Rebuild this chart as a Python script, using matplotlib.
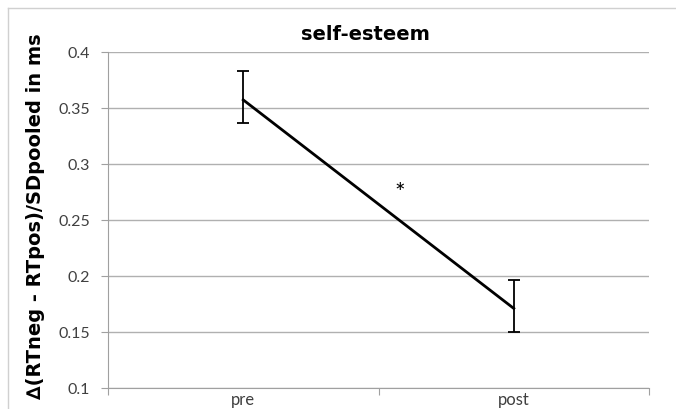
import matplotlib
matplotlib.use("Agg")
import matplotlib.pyplot as plt
from matplotlib.lines import Line2D

categories = ["pre", "post"]
values = [0.357, 0.171]
err_upper = [0.0255, 0.0250]
err_lower = [0.0207, 0.0210]
yticks = [0.1, 0.15, 0.2, 0.25, 0.3, 0.35, 0.4]
ytick_labels = ["0.1", "0.15", "0.2", "0.25", "0.3", "0.35", "0.4"]

plt.rcParams['font.family'] = ['Lato', 'DejaVu Sans']

W, H = 676, 410
fig = plt.figure(figsize=(W/100, H/100), dpi=100)
# outer frame (left and top edges visible)
fig.lines.append(Line2D([8/W, 8/W], [0, 1-9/H], transform=fig.transFigure,
                        color='#d0d0d0', linewidth=1))
fig.lines.append(Line2D([8/W, 1], [1-9/H, 1-9/H], transform=fig.transFigure,
                        color='#d0d0d0', linewidth=1))

ax = fig.add_axes([108/W, 1-389/H, (649-108)/W, (389-52.7)/H])

x = [0.5, 1.5]
ax.errorbar(x, values, yerr=[err_lower, err_upper], color='black', linewidth=2,
            elinewidth=1.3, capsize=4, capthick=1.3)
ax.set_xlim(0, 2)
ax.set_ylim(0.1, 0.4)
ax.set_yticks(yticks)
ax.set_yticklabels(ytick_labels, fontsize=11.5, color='#404040')
ax.yaxis.grid(True, color='#b0b0b0', linewidth=1)
ax.set_axisbelow(True)
ax.set_xticks([0, 1, 2])
ax.set_xticklabels([])
ax.set_xticks(x, minor=True)
ax.set_xticklabels(categories, minor=True, fontsize=12, color='#404040')
ax.tick_params(axis='x', which='minor', length=0, pad=2)
ax.tick_params(axis='x', which='major', length=5, color='#a0a0a0', direction='out')
ax.tick_params(axis='y', length=5, color='#a0a0a0', direction='out', pad=8)
for s in ['top', 'right']:
    ax.spines[s].set_visible(False)
for s in ['left', 'bottom']:
    ax.spines[s].set_color('#a0a0a0')

fig.text(365/W, 1-40/H, "self-esteem", fontsize=14, fontweight='bold',
         family=['DejaVu Sans'], ha='center', va='baseline')
ax.text(1.079, 0.2745, "*", fontsize=18, ha='center', va='center')
fig.text(36/W, 1-216/H, "∆(RTneg - RTpos)/SDpooled in ms", rotation=90, fontsize=14,
         fontweight='bold', family=['DejaVu Sans'], ha='center', va='center')

fig.savefig("out.png", dpi=100)
